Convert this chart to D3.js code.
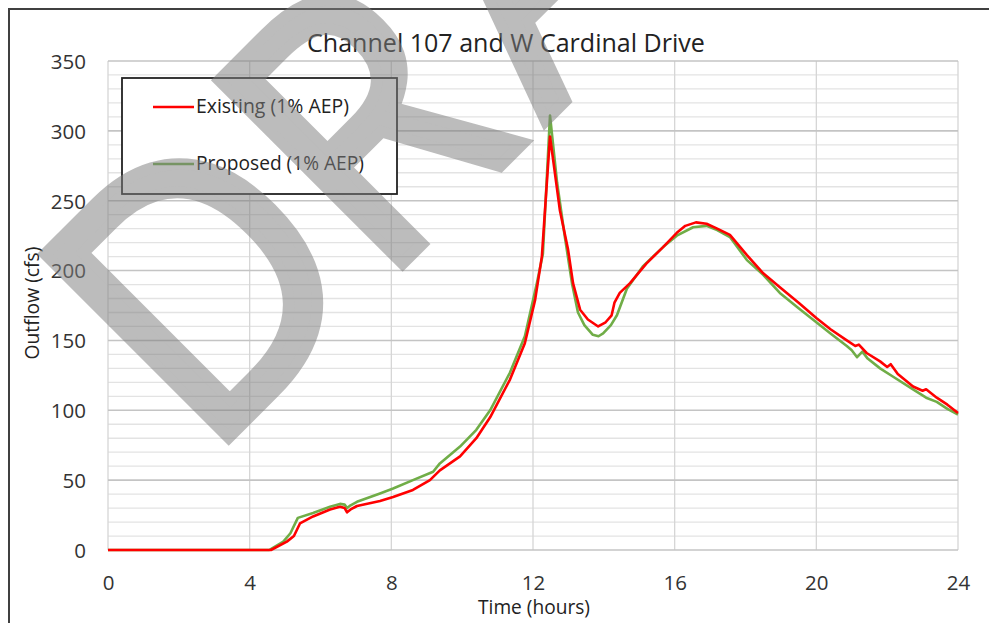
<!DOCTYPE html>
<html>
<head>
<meta charset="utf-8">
<script src="https://cdn.jsdelivr.net/npm/d3@7"></script>
<style>
  body { margin: 0; background: #fff; }
  svg { display: block; font-family: "Open Sans", sans-serif; }
</style>
</head>
<body>
<div id="chart"></div>
<script>
// hydrograph values (hours, cfs)
existingTime = [0, 4.6, 5.05, 5.25, 5.42, 5.79, 6.27, 6.55, 6.68, 6.75, 6.85, 7.03, 7.68, 8.05, 8.61, 9.09, 9.37, 9.94, 10.4, 10.79, 11.35, 11.77, 12.06, 12.25, 12.48, 12.76, 12.99, 13.13, 13.33, 13.55, 13.84, 14.05, 14.22, 14.3, 14.45, 14.74, 15.2, 15.68, 16.06, 16.3, 16.6, 16.9, 17.2, 17.56, 18.04, 18.5, 18.97, 19.5, 20.0, 20.4, 20.86, 21.1, 21.2, 21.42, 21.8, 22.0, 22.1, 22.3, 22.73, 23.0, 23.1, 23.4, 23.7, 24]
existingFlow = [0, 0, 6, 10, 19, 24, 29, 31, 30, 27, 29, 31.5, 35, 38, 43, 50, 57, 67, 80, 95, 122, 148, 179, 210, 296, 243, 215, 191, 172, 165, 160, 163, 168, 177, 184, 191, 205, 217, 227, 232, 234.5, 233.5, 230, 225.5, 211, 198, 188, 177, 166, 158, 150, 146, 147, 141, 135, 131, 133, 126, 117, 114, 115, 109, 104, 98]

proposedTime = [0, 4.55, 4.95, 5.15, 5.36, 5.79, 6.27, 6.55, 6.68, 6.75, 6.85, 7.03, 7.68, 8.05, 8.61, 9.18, 9.37, 9.94, 10.4, 10.79, 11.35, 11.77, 12.11, 12.28, 12.48, 12.68, 12.9, 13.1, 13.27, 13.45, 13.69, 13.85, 13.98, 14.2, 14.37, 14.65, 15.1, 15.68, 16.06, 16.52, 16.9, 17.2, 17.56, 18.04, 18.5, 18.97, 19.5, 20.0, 20.4, 20.86, 21.0, 21.15, 21.3, 21.45, 21.8, 22.17, 22.73, 23.1, 23.4, 23.7, 24]
proposedFlow = [0, 0, 6, 12, 23, 26.5, 31, 33, 32.5, 30, 32, 34.5, 40.5, 44, 50, 56, 62, 74, 86, 100, 127, 153, 191, 212, 311, 263, 224, 191, 170, 161, 154, 153, 155, 161, 168, 187, 203, 217, 225, 231, 232, 229, 224, 207.5, 197, 184, 173, 163, 155, 146, 143, 138, 142, 137, 130, 124, 115, 109, 106, 101, 97]

xTicks = [0, 4, 8, 12, 16, 20, 24]
yTicks = [0, 50, 100, 150, 200, 250, 300, 350]
seriesNames = ["Existing (1% AEP)", "Proposed (1% AEP)"]
seriesColors = ["#ff0000", "#70ad47"]

width = 989
height = 623
margin = {top: 61, right: 31, bottom: 73, left: 108}

svg = d3.select("#chart").append("svg")
    .attr("width", width)
    .attr("height", height)

x = d3.scaleLinear().domain([0, 24]).range([margin.left, width - margin.right])
y = d3.scaleLinear().domain([0, 350]).range([height - margin.bottom, margin.top])

// scale a text node so its ink spans roughly the wanted width
function fitWidth(sel, w) {
    const len = sel.node().getComputedTextLength()
    const fs = parseFloat(sel.attr("font-size"))
    sel.attr("font-size", fs * w / len)
}

// chart area frame
svg.append("rect")
    .attr("x", 9).attr("y", 9)
    .attr("width", 1000).attr("height", 640)
    .attr("fill", "none")
    .attr("stroke", "#404040")
    .attr("stroke-width", 2)

// minor grid every 10
svg.append("g")
    .selectAll("line")
    .data(d3.range(10, 350, 10).filter(d => d % 50 != 0))
    .join("line")
    .attr("x1", x(0)).attr("x2", x(24))
    .attr("y1", d => y(d)).attr("y2", d => y(d))
    .attr("stroke", "#e3e3e3")
    .attr("stroke-width", 1.3)

// vertical grid
svg.append("g")
    .selectAll("line")
    .data(xTicks)
    .join("line")
    .attr("x1", d => x(d)).attr("x2", d => x(d))
    .attr("y1", y(0)).attr("y2", y(350))
    .attr("stroke", "#d6d6d6")
    .attr("stroke-width", 1.3)

// major grid every 50
svg.append("g")
    .selectAll("line")
    .data(yTicks)
    .join("line")
    .attr("x1", x(0)).attr("x2", x(24))
    .attr("y1", d => y(d)).attr("y2", d => y(d))
    .attr("stroke", "#c4c4c4")
    .attr("stroke-width", 1.6)

// axes labels
yAxis = svg.append("g")
    .attr("transform", `translate(${x(0) - 22},0)`)
    .call(d3.axisLeft(y).tickValues(yTicks).tickSize(0).tickPadding(0))
yAxis.select(".domain").remove()
yAxis.selectAll("text")
    .attr("font-size", 20.5)
    .attr("font-family", "Open Sans")
    .attr("fill", "#333")
    .attr("dy", "0.36em")

xAxis = svg.append("g")
    .attr("transform", `translate(0,${y(0) + 40})`)
    .call(d3.axisBottom(x).tickValues(xTicks).tickSize(0).tickPadding(0))
xAxis.select(".domain").remove()
xAxis.selectAll("text")
    .attr("font-size", 20.5)
    .attr("font-family", "Open Sans")
    .attr("fill", "#333")
    .attr("dy", 0)

// lines
line = d3.line()
    .x(d => x(d[0]))
    .y(d => y(d[1]))

proposed = d3.zip(proposedTime, proposedFlow)
existing = d3.zip(existingTime, existingFlow)

svg.append("path")
    .datum(proposed)
    .attr("d", line)
    .attr("fill", "none")
    .attr("stroke", seriesColors[1])
    .attr("stroke-width", 2.6)
    .attr("stroke-linejoin", "round")

svg.append("path")
    .datum(existing)
    .attr("d", line)
    .attr("fill", "none")
    .attr("stroke", seriesColors[0])
    .attr("stroke-width", 2.6)
    .attr("stroke-linejoin", "round")

// title
title = svg.append("text")
    .attr("x", 506).attr("y", 52)
    .attr("text-anchor", "middle")
    .attr("font-size", 22)
    .attr("fill", "#222")
    .text("Channel 107 and W Cardinal Drive")
fitWidth(title, 398)

// axis titles
xt = svg.append("text")
    .attr("x", 534).attr("y", 614)
    .attr("text-anchor", "middle")
    .attr("font-size", 16)
    .attr("fill", "#222")
    .text("Time (hours)")
fitWidth(xt, 112)

yt = svg.append("text")
    .attr("transform", "translate(39,303) rotate(-90)")
    .attr("text-anchor", "middle")
    .attr("font-size", 16)
    .attr("fill", "#222")
    .text("Outflow (cfs)")
fitWidth(yt, 113)

// legend
legend = svg.append("g")
legend.append("rect")
    .attr("x", 122).attr("y", 78)
    .attr("width", 275).attr("height", 116)
    .attr("fill", "#fff")
    .attr("stroke", "#222")
    .attr("stroke-width", 1.8)

legendY = [107, 164]
legendW = [153, 168]
seriesNames.forEach((name, i) => {
    legend.append("line")
        .attr("x1", 153).attr("x2", 194)
        .attr("y1", legendY[i]).attr("y2", legendY[i])
        .attr("stroke", seriesColors[i])
        .attr("stroke-width", 2.6)
    const t = legend.append("text")
        .attr("x", 196).attr("y", legendY[i] + 6)
        .attr("font-size", 17)
        .attr("fill", "#222")
        .text(name)
    fitWidth(t, legendW[i])
})

// DRAFT watermark
svg.append("text")
    .attr("transform", "translate(205,461) rotate(-45) scale(0.934,1)")
    .attr("font-family", "Open Sans")
    .attr("font-size", 363)
    .attr("dx", "0 0 28 0 0")
    .attr("fill", "#7f7f7f")
    .attr("stroke", "#7f7f7f")
    .attr("stroke-width", 12)
    .attr("stroke-linejoin", "miter")
    .attr("opacity", 0.52)
    .text("DRAFT")
</script>
</body>
</html>
